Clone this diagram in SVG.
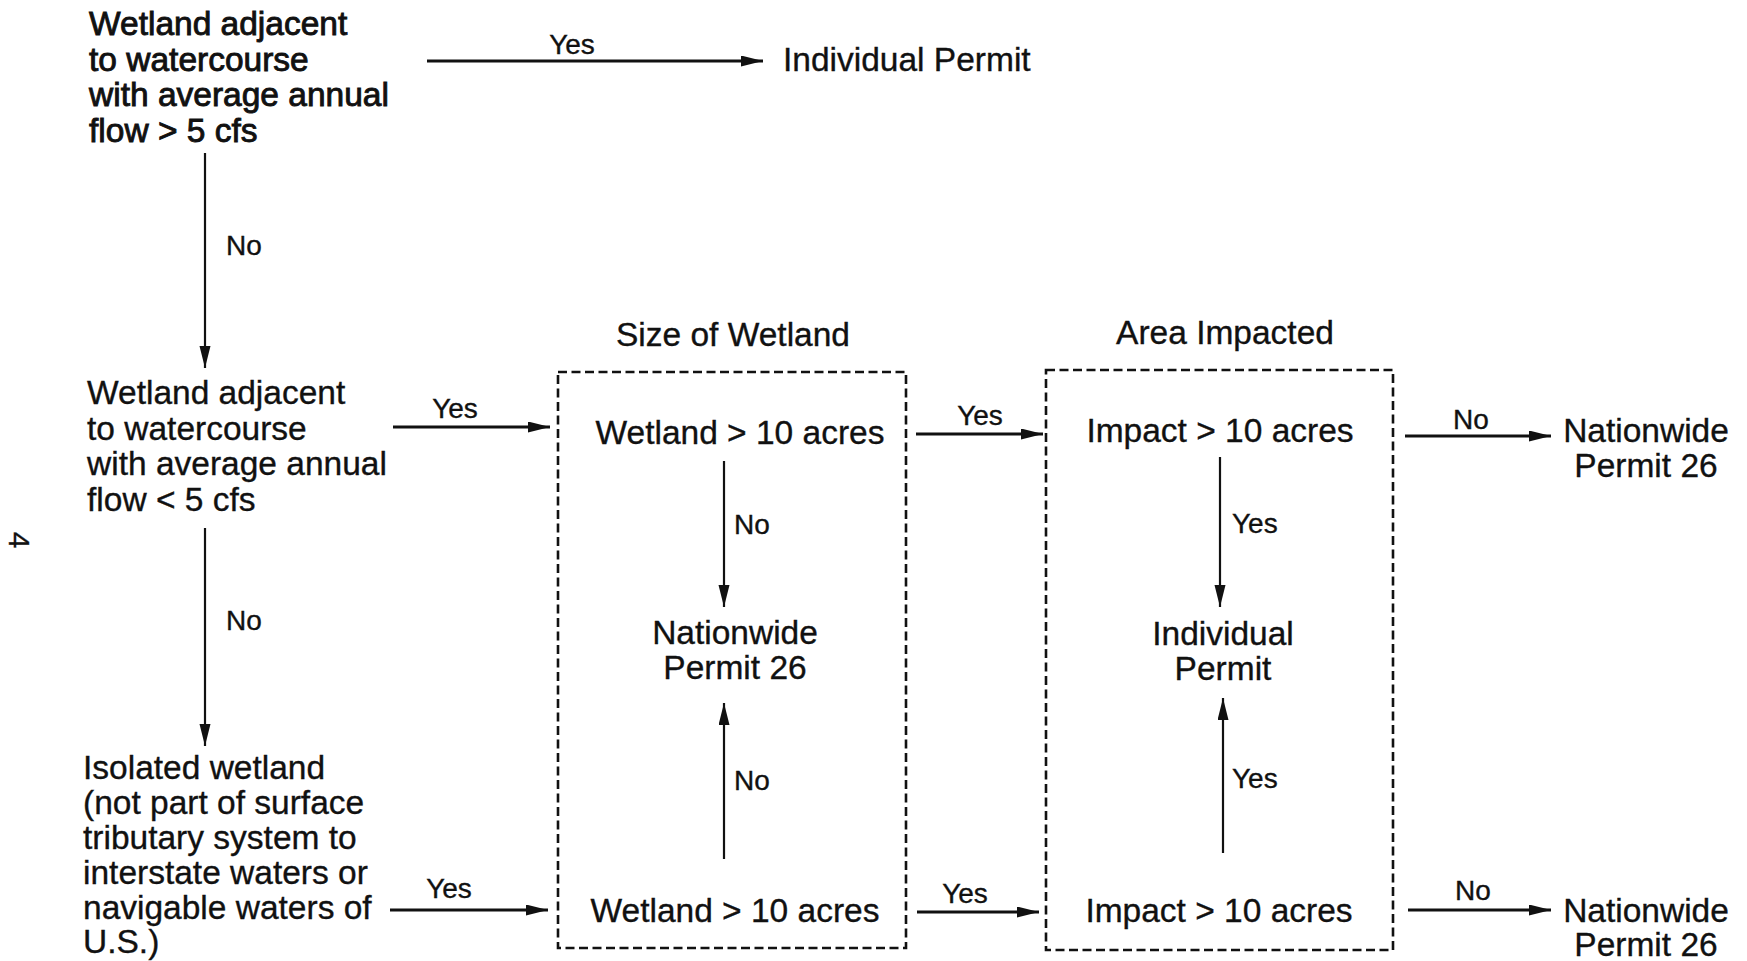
<svg xmlns="http://www.w3.org/2000/svg" width="1747" height="961" viewBox="0 0 1747 961">
<defs>
<style>
text{font-family:"Liberation Sans",Arial,Helvetica,sans-serif;fill:#111;stroke:#111;stroke-width:0.35;}
.t{font-size:33.5px;}
.l{font-size:28px;}
.c{text-anchor:middle;}
.bold text{stroke-width:0.9;}
.h{stroke:#111;stroke-width:3;fill:none;}
.v{stroke:#111;stroke-width:2.2;fill:none;}
.box{stroke:#111;stroke-width:2.6;fill:none;stroke-dasharray:9 4.5;}
</style>
<marker id="ah" markerUnits="userSpaceOnUse" markerWidth="24" markerHeight="12" refX="22" refY="5.5" orient="auto">
<path d="M0,0 L22,5.5 L0,11 z" fill="#111"/>
</marker>
</defs>
<rect width="1747" height="961" fill="#fff"/>

<g id="connectors">
<line class="h" x1="427" y1="61" x2="763" y2="61" marker-end="url(#ah)"/>
<line class="v" x1="205" y1="153" x2="205" y2="368" marker-end="url(#ah)"/>
<line class="h" x1="393" y1="427" x2="550" y2="427" marker-end="url(#ah)"/>
<line class="v" x1="205" y1="528" x2="205" y2="746" marker-end="url(#ah)"/>
<line class="h" x1="390" y1="910" x2="548" y2="910" marker-end="url(#ah)"/>
<line class="v" x1="724" y1="461" x2="724" y2="607" marker-end="url(#ah)"/>
<line class="v" x1="724" y1="859" x2="724" y2="703" marker-end="url(#ah)"/>
<line class="h" x1="916" y1="434" x2="1043" y2="434" marker-end="url(#ah)"/>
<line class="h" x1="917" y1="912" x2="1039" y2="912" marker-end="url(#ah)"/>
<line class="v" x1="1220" y1="457" x2="1220" y2="607" marker-end="url(#ah)"/>
<line class="v" x1="1223" y1="853" x2="1223" y2="698" marker-end="url(#ah)"/>
<line class="h" x1="1405" y1="436" x2="1551" y2="436" marker-end="url(#ah)"/>
<line class="h" x1="1408" y1="910" x2="1551" y2="910" marker-end="url(#ah)"/>
<text class="l c" x="572" y="54">Yes</text>
<text class="l" x="226" y="255">No</text>
<text class="l c" x="455" y="418">Yes</text>
<text class="l" x="226" y="630">No</text>
<text class="l c" x="449" y="898">Yes</text>
<text class="l" x="734" y="534">No</text>
<text class="l" x="734" y="790">No</text>
<text class="l c" x="980" y="425">Yes</text>
<text class="l c" x="965" y="903">Yes</text>
<text class="l" x="1232" y="533">Yes</text>
<text class="l" x="1232" y="788">Yes</text>
<text class="l c" x="1471" y="429">No</text>
<text class="l c" x="1473" y="900">No</text>
</g>

<g id="q1" class="bold">
<text class="t" x="89" y="35">Wetland adjacent</text>
<text class="t" x="89" y="70.5">to watercourse</text>
<text class="t" x="89" y="106">with average annual</text>
<text class="t" x="89" y="141.5">flow &gt; 5 cfs</text>
</g>
<g id="individual-permit-top">
<text class="t" x="783" y="71">Individual Permit</text>
</g>
<g id="q2">
<text class="t" x="87" y="404">Wetland adjacent</text>
<text class="t" x="87" y="439.5">to watercourse</text>
<text class="t" x="87" y="475">with average annual</text>
<text class="t" x="87" y="510.5">flow &lt; 5 cfs</text>
</g>
<g id="q3">
<text class="t" x="83" y="779">Isolated wetland</text>
<text class="t" x="83" y="814">(not part of surface</text>
<text class="t" x="83" y="849">tributary system to</text>
<text class="t" x="83" y="884">interstate waters or</text>
<text class="t" x="83" y="919">navigable waters of</text>
<text class="t" x="83" y="953">U.S.)</text>
</g>

<g id="size-of-wetland">
<text class="t c" x="733" y="346">Size of Wetland</text>
<rect class="box" x="558" y="372" width="348" height="576"/>
</g>
<g id="wetland-top">
<text class="t c" x="740" y="444">Wetland &gt; 10 acres</text>
</g>
<g id="nwp-box1">
<text class="t c" x="735" y="644">Nationwide</text>
<text class="t c" x="735" y="679">Permit 26</text>
</g>
<g id="wetland-bottom">
<text class="t c" x="735" y="922">Wetland &gt; 10 acres</text>
</g>

<g id="area-impacted">
<text class="t c" x="1225" y="344">Area Impacted</text>
<rect class="box" x="1046" y="370" width="347" height="580"/>
</g>
<g id="impact-top">
<text class="t c" x="1220" y="442">Impact &gt; 10 acres</text>
</g>
<g id="individual-permit-box2">
<text class="t c" x="1223" y="645">Individual</text>
<text class="t c" x="1223" y="680">Permit</text>
</g>
<g id="impact-bottom">
<text class="t c" x="1219" y="922">Impact &gt; 10 acres</text>
</g>

<g id="nwp-right-top">
<text class="t c" x="1646" y="442">Nationwide</text>
<text class="t c" x="1646" y="477">Permit 26</text>
</g>
<g id="nwp-right-bottom">
<text class="t c" x="1646" y="922">Nationwide</text>
<text class="t c" x="1646" y="956">Permit 26</text>
</g>

<g id="page-number">
<text x="0" y="0" font-size="30" class="c" transform="translate(9,540) rotate(90)">4</text>
</g>
</svg>
